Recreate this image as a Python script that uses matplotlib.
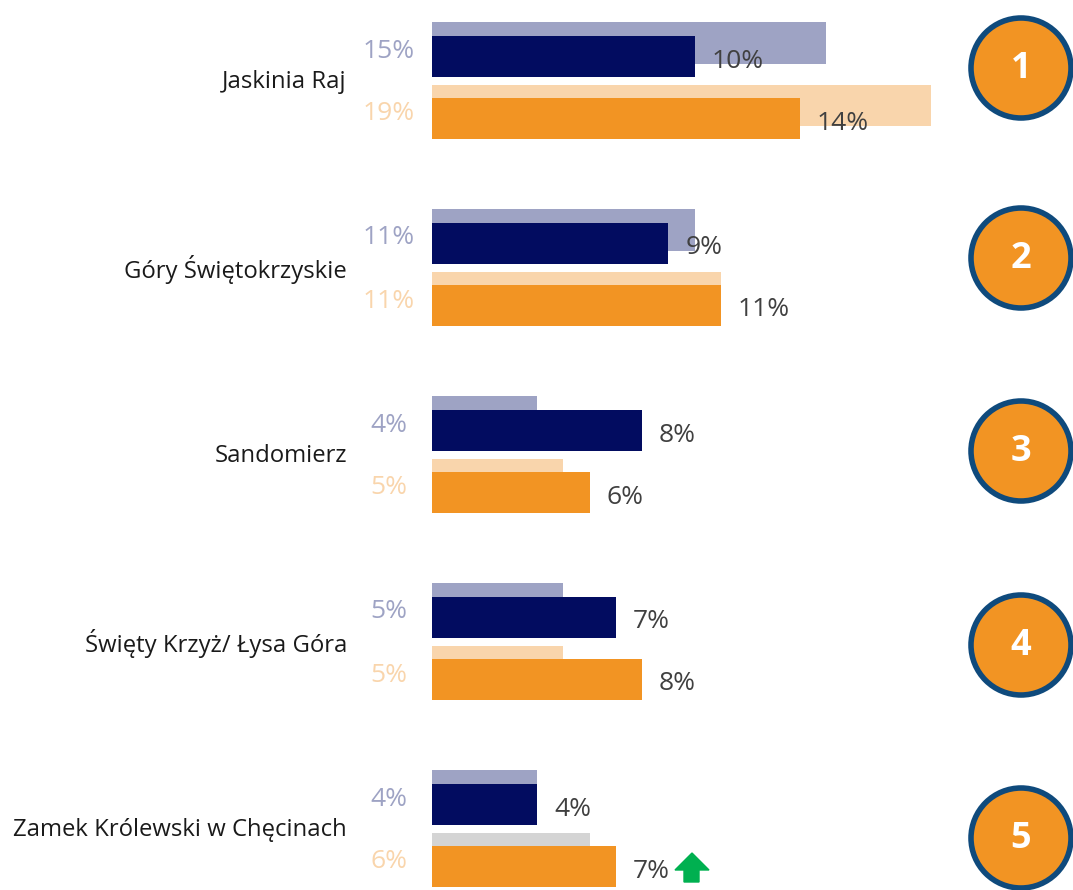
import matplotlib
matplotlib.use("Agg")
import matplotlib.pyplot as plt
from matplotlib.patches import Circle, Polygon

plt.rcParams['font.family'] = ['Open Sans', 'DejaVu Sans']

categories = ["Jaskinia Raj", "Góry Świętokrzyskie", "Sandomierz",
              "Święty Krzyż/ Łysa Góra", "Zamek Królewski w Chęcinach"]
prev_navy = [15, 10, 4, 5, 4]
prev_navy_labels = ["15%", "11%", "4%", "5%", "4%"]
curr_navy = [10, 9, 8, 7, 4]
curr_navy_labels = ["10%", "9%", "8%", "7%", "4%"]
prev_orange = [19, 11, 5, 5, 6]
prev_orange_labels = ["19%", "11%", "5%", "5%", "6%"]
curr_orange = [14, 11, 6, 8, 7]
curr_orange_labels = ["14%", "11%", "6%", "8%", "7%"]
ranks = ["1", "2", "3", "4", "5"]

NAVY = "#020C60"
NAVY_L = "#9EA3C4"
ORANGE = "#F29423"
ORANGE_L = "#F9D5AC"
GRAY_L = "#D4D4D4"
TXT = "#404040"

W, H = 1073, 890
fig = plt.figure(figsize=(W / 100, H / 100), dpi=100)

px_per_unit = 26.26
x0 = 432
ax = fig.add_axes([x0 / W, 0, (W - x0) / W, 1])
ax.set_xlim(0, (W - x0) / px_per_unit)
ax.set_ylim(H, 0)
ax.axis("off")

step = 187
off = 17 / px_per_unit
left_lab_x = -(x0 - 389) / px_per_unit
for i in range(len(categories)):
    base = 22 + step * i
    # navy
    ax.barh(base + 21, prev_navy[i], height=42, color=NAVY_L, align="center")
    ax.barh(base + 14 + 20.5, curr_navy[i], height=41, color=NAVY, align="center")
    # orange
    back_col = GRAY_L if i == len(categories) - 1 else ORANGE_L
    ax.barh(base + 63 + 20.5, prev_orange[i], height=41, color=back_col, align="center")
    ax.barh(base + 76 + 20.5, curr_orange[i], height=41, color=ORANGE, align="center")

    ax.text(left_lab_x, base + 29, prev_navy_labels[i], ha="center", va="center",
            fontsize=19, color=NAVY_L, clip_on=False)
    ax.text(left_lab_x, base + 92, prev_orange_labels[i], ha="center", va="center",
            fontsize=19, color=ORANGE_L, clip_on=False)
    ax.text(curr_navy[i] + off, base + 39, curr_navy_labels[i], ha="left", va="center",
            fontsize=19, color=TXT)
    ax.text(curr_orange[i] + off, base + 101, curr_orange_labels[i], ha="left", va="center",
            fontsize=19, color=TXT)
    ax.text(-(x0 - 347) / px_per_unit, base + 60, categories[i], ha="right", va="center",
            fontsize=17.2, color="#1a1a1a", clip_on=False)

# green up arrow next to the last orange label
last = len(categories) - 1
base = 22 + step * last
ax_x = curr_orange[last] + (675 - x0 - curr_orange[last] * px_per_unit) / px_per_unit
u = 1 / px_per_unit
arrow = Polygon([(ax_x, base + 100), (ax_x + 17 * u, base + 83), (ax_x + 34 * u, base + 100),
                 (ax_x + 24 * u, base + 100), (ax_x + 24 * u, base + 112),
                 (ax_x + 9 * u, base + 112), (ax_x + 9 * u, base + 100)],
                closed=True, color="#00B050")
ax.add_patch(arrow)

# rank circles
cax = fig.add_axes([0, 0, 1, 1])
cax.set_xlim(0, W)
cax.set_ylim(H, 0)
cax.axis("off")
cy = [68, 258, 451, 645, 838]
for r, y in zip(ranks, cy):
    cax.add_patch(Circle((1021, y), 50, facecolor=ORANGE, edgecolor="#0F4A7C", linewidth=4))
    cax.text(1021, y + 1, r, ha="center", va="center", fontsize=26,
             fontweight="bold", color="white")

fig.savefig("out.png", dpi=100)
